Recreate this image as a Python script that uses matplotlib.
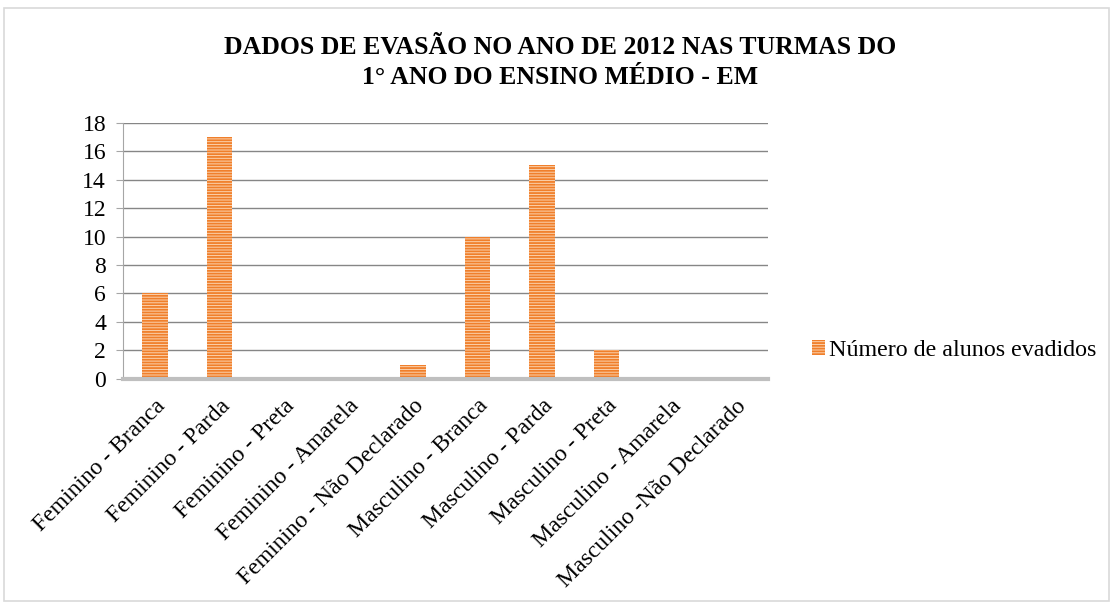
"""
Evasão escolar 2012 - 1° ano do Ensino Médio.
"""

import matplotlib.pyplot as plt
from matplotlib.patches import Rectangle

categories = [
    "Feminino - Branca",
    "Feminino - Parda",
    "Feminino - Preta",
    "Feminino - Amarela",
    "Feminino - Não Declarado",
    "Masculino - Branca",
    "Masculino - Parda",
    "Masculino - Preta",
    "Masculino - Amarela",
    "Masculino -Não Declarado",
]
evadidos = [6, 17, 0, 0, 1, 10, 15, 2, 0, 0]
yticks = [0, 2, 4, 6, 8, 10, 12, 14, 16, 18]

title = "DADOS DE EVASÃO NO ANO DE 2012 NAS TURMAS DO\n1° ANO DO ENSINO MÉDIO - EM"
series_name = "Número de alunos evadidos"

plt.rcParams["font.family"] = ["Liberation Serif", "DejaVu Serif"]
plt.rcParams["hatch.linewidth"] = 1.3

fig = plt.figure(figsize=(11.16, 6.08), dpi=100)
ax = fig.add_axes([0.110, 0.377, 0.578, 0.421])

# outer chart border
fig.patches.append(
    Rectangle(
        (0.004, 0.012),
        0.99,
        0.975,
        transform=fig.transFigure,
        fill=False,
        edgecolor="#d9d9d9",
        linewidth=1.2,
    )
)

x = list(range(len(categories)))

ax.bar(
    x,
    evadidos,
    width=0.4,
    color="#fbd2ae",
    edgecolor="#f07f2b",
    linewidth=0,
    hatch="------",
    label=series_name,
    zorder=3,
)

ax.set_xlim(-0.5, len(categories) - 0.5)
ax.set_ylim(0, 18)
ax.set_yticks(yticks)
ax.set_yticklabels([str(v) for v in yticks], fontsize=17)

ax.set_xticks(x)
ax.set_xticklabels(
    categories,
    rotation=45,
    ha="right",
    rotation_mode="anchor",
    fontsize=17,
)

ax.grid(axis="y", color="#868686", linewidth=1.0, zorder=0)

for side in ["top", "right"]:
    ax.spines[side].set_visible(False)

ax.spines["left"].set_color("#a6a6a6")
ax.spines["bottom"].set_color("#bfbfbf")
ax.spines["bottom"].set_linewidth(3)
ax.spines["bottom"].set_zorder(4)

ax.tick_params(axis="y", length=5, color="#a6a6a6", pad=7)
ax.tick_params(axis="x", length=0, pad=12)

fig.text(
    0.502,
    0.897,
    title,
    ha="center",
    va="center",
    fontsize=18.5,
    fontweight="bold",
    linespacing=1.4,
)

ax.legend(
    loc="center left",
    bbox_to_anchor=(1.042, 0.11),
    frameon=False,
    fontsize=17.3,
    handlelength=0.55,
    handleheight=0.55,
    handletextpad=0.15,
    borderaxespad=0.3,
)

fig.savefig("out.png", dpi=100)
